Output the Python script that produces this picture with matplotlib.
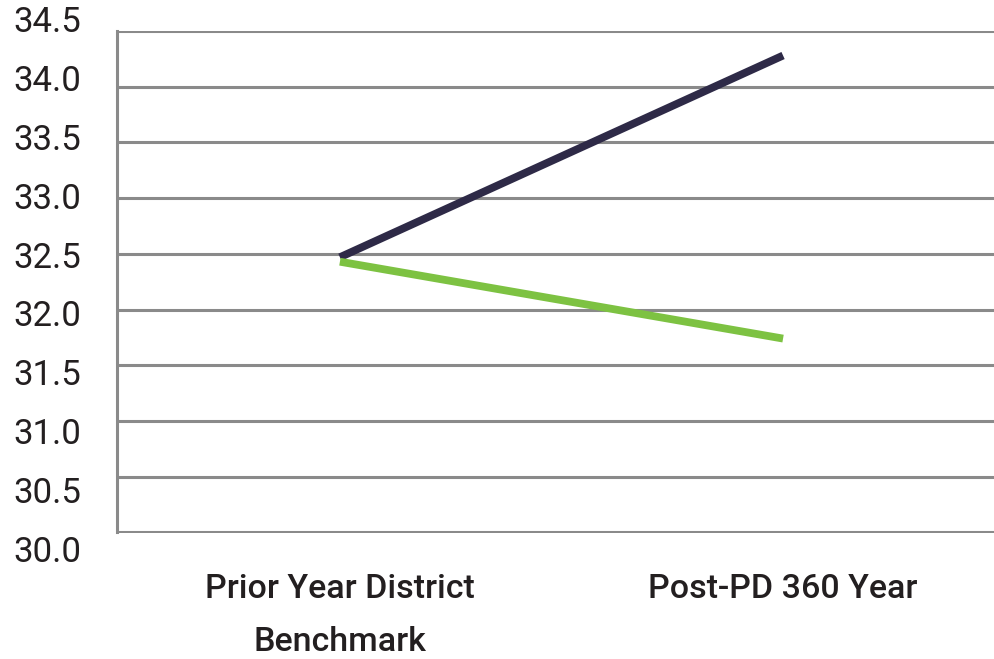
import numpy as np
import matplotlib
matplotlib.use("Agg")
from matplotlib import pyplot as plt

categories = ["Prior Year District\nBenchmark", "Post-PD 360 Year"]
series_dark = [32.47, 34.28]
series_green = [32.43, 31.74]
y_ticks = [30.0, 30.5, 31.0, 31.5, 32.0, 32.5, 33.0, 33.5, 34.0, 34.5]
y_labels = ["30.0", "30.5", "31.0", "31.5", "32.0", "32.5", "33.0", "33.5", "34.0", "34.5"]

plt.rcParams['font.family'] = ['Roboto', 'DejaVu Sans']

fig = plt.figure(figsize=(9.94, 6.59), dpi=100)
ax = fig.add_axes([117/994, 1 - 532.5/659, 1 - 117/994, (532.5 - 31)/659])

grid_col = "#8a8a8a"
x = np.arange(len(categories))
ax.plot(x, series_dark, color="#2e2a47", lw=5.6, solid_capstyle="butt", zorder=3)
ax.plot(x, series_green, color="#7dc242", lw=5.6, solid_capstyle="butt", zorder=4)

ax.set_xlim(-0.503, 1.476)
ax.set_ylim(30.0, 34.5)
ax.set_yticks(y_ticks)
ax.yaxis.grid(True, color=grid_col, lw=2.2)
ax.set_axisbelow(True)
ax.tick_params(axis="y", length=0, labelleft=False)
ax.set_xticks(x, categories)
ax.tick_params(axis="x", length=0, pad=29, labelsize=24.5)
for lbl in ax.get_xticklabels():
    lbl.set_fontweight("medium")
    lbl.set_linespacing(1.85)
    lbl.set_color("#231f20")

for side in ["top", "right", "bottom"]:
    ax.spines[side].set_visible(False)
ax.spines["left"].set_color(grid_col)
ax.spines["left"].set_linewidth(2.2)

# y labels sit on a slightly wider spacing than the gridlines
for v, s in zip(y_ticks, y_labels):
    py = 22.5 + (34.5 - v) / 0.5 * 58.9
    fig.text(13/994, 1 - py/659, s, ha="left", va="center",
             fontsize=25, color="#231f20")

fig.savefig("out.png", dpi=100)
